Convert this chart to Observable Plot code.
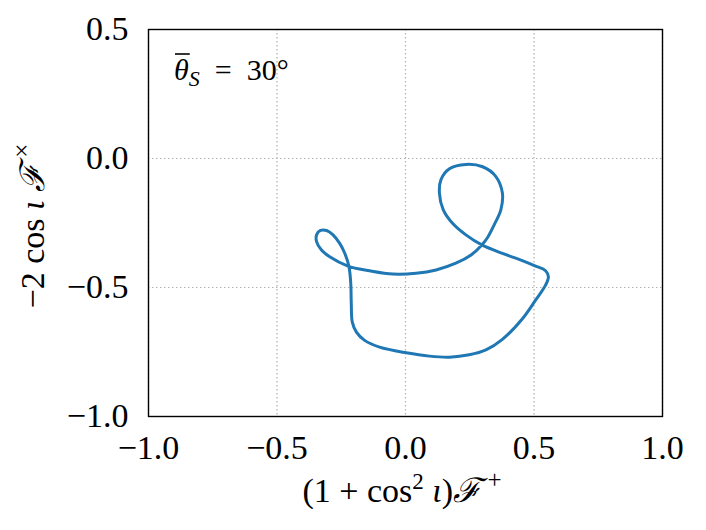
<!DOCTYPE html>
<html>
<head>
<meta charset="utf-8">
<script src="https://cdn.jsdelivr.net/npm/d3@7"></script>
<script src="https://cdn.jsdelivr.net/npm/@observablehq/plot@0.6"></script>
<style>
  html, body { margin: 0; padding: 0; background: #fff; }
</style>
</head>
<body>
<div id="chart"></div>
<script>
// Parametric curve (F+ , F×), in drawing order (closed loop)
const fPlus = [-0.140, -0.224, -0.295, -0.327, -0.346, -0.346, -0.331, -0.307, -0.282, -0.256,
  -0.236, -0.220, -0.213, -0.211, -0.207, -0.191, -0.159, -0.101, 0.003, 0.093,
  0.171, 0.248, 0.313, 0.377, 0.455, 0.506, 0.545, 0.556, 0.545, 0.506,
  0.442, 0.377, 0.297, 0.235, 0.183, 0.147, 0.132, 0.138, 0.171, 0.235,
  0.300, 0.351, 0.377, 0.371, 0.345, 0.320, 0.297, 0.255, 0.196, 0.119,
  0.041, -0.049];
const fCross = [-0.435, -0.417, -0.381, -0.355, -0.322, -0.296, -0.279, -0.279, -0.296, -0.329,
  -0.368, -0.419, -0.484, -0.562, -0.634, -0.673, -0.705, -0.731, -0.753, -0.766,
  -0.770, -0.761, -0.742, -0.701, -0.621, -0.549, -0.491, -0.458, -0.435, -0.417,
  -0.391, -0.368, -0.335, -0.296, -0.251, -0.199, -0.134, -0.082, -0.040, -0.023,
  -0.032, -0.069, -0.134, -0.199, -0.257, -0.305, -0.335, -0.374, -0.406, -0.432,
  -0.445, -0.448];
const xTicks = [-1.0, -0.5, 0.0, 0.5, 1.0];
const yTicks = [-1.0, -0.5, 0.0, 0.5];
const annotationAngle = 30;

const pts = fPlus.map((x, i) => ({x, y: fCross[i]}));
const fmt = d => (d < 0 ? "\u2212" : "") + Math.abs(d).toFixed(1);
const serif = "'Liberation Serif', 'DejaVu Serif', serif";

const W = 706, H = 530;
const chart = Plot.plot({
  width: W, height: H,
  marginLeft: 148, marginRight: 44, marginTop: 29, marginBottom: 114,
  style: {fontFamily: serif, fontSize: "34px", color: "#000", background: "#fff"},
  x: {domain: [-1, 1]},
  y: {domain: [-1, 0.5]},
  marks: [
    Plot.gridX(xTicks, {stroke: "#b0b0b0", strokeOpacity: 1, strokeWidth: 1.2, strokeDasharray: "1.4,2.6"}),
    Plot.gridY(yTicks, {stroke: "#b0b0b0", strokeOpacity: 1, strokeWidth: 1.2, strokeDasharray: "1.4,2.6"}),
    Plot.line(pts, {x: "x", y: "y", curve: "catmull-rom-closed", stroke: "#1f77b4", strokeWidth: 3}),
    Plot.frame({stroke: "#000", strokeWidth: 1.4}),
    Plot.axisX(xTicks, {tickSize: 0, tickPadding: 18, tickFormat: fmt, label: null, fontSize: 34}),
    Plot.axisY(yTicks, {tickSize: 0, tickPadding: 20, tickFormat: fmt, label: null, fontSize: 34})
  ]
});
document.getElementById("chart").appendChild(chart);

const svg = d3.select(chart);

// x-axis label
const xl = svg.append("text")
  .attr("x", 402).attr("y", 502)
  .attr("text-anchor", "middle")
  .attr("font-family", serif).attr("font-size", 34).attr("fill", "#000");
xl.append("tspan").text("(1 + cos");
xl.append("tspan").attr("font-size", 23).attr("dy", -13).text("2");
xl.append("tspan").attr("dy", 13).attr("font-style", "italic").text(" \u03B9");
xl.append("tspan").text(")");
xl.append("tspan").attr("font-style", "italic").text("\u2131");
xl.append("tspan").attr("font-size", 25).attr("dy", -14).text(" +");

// y-axis label
const yl = svg.append("text")
  .attr("transform", "translate(44,226) rotate(-90)")
  .attr("text-anchor", "middle")
  .attr("font-family", serif).attr("font-size", 34).attr("fill", "#000");
yl.append("tspan").text("\u22122 cos ");
yl.append("tspan").attr("font-style", "italic").text("\u03B9 \u2131");
yl.append("tspan").attr("font-size", 25).attr("dy", -14).text(" \u00D7");

// annotation
const an = svg.append("text")
  .attr("x", 174).attr("y", 80)
  .attr("text-anchor", "start")
  .attr("font-family", serif).attr("font-size", 30).attr("fill", "#000");
const th = an.append("tspan").attr("font-style", "italic").text("\u03B8");
an.append("tspan").attr("font-style", "italic").attr("font-size", 22).attr("dy", 6).text("S");
an.append("tspan").attr("dy", -6).text("  =  " + annotationAngle + "\u00B0");
const tw = th.node().getComputedTextLength();
svg.append("line")
  .attr("x1", 175).attr("x2", 174 + tw + 1)
  .attr("y1", 54).attr("y2", 54)
  .attr("stroke", "#000").attr("stroke-width", 1.6);
</script>
</body>
</html>
